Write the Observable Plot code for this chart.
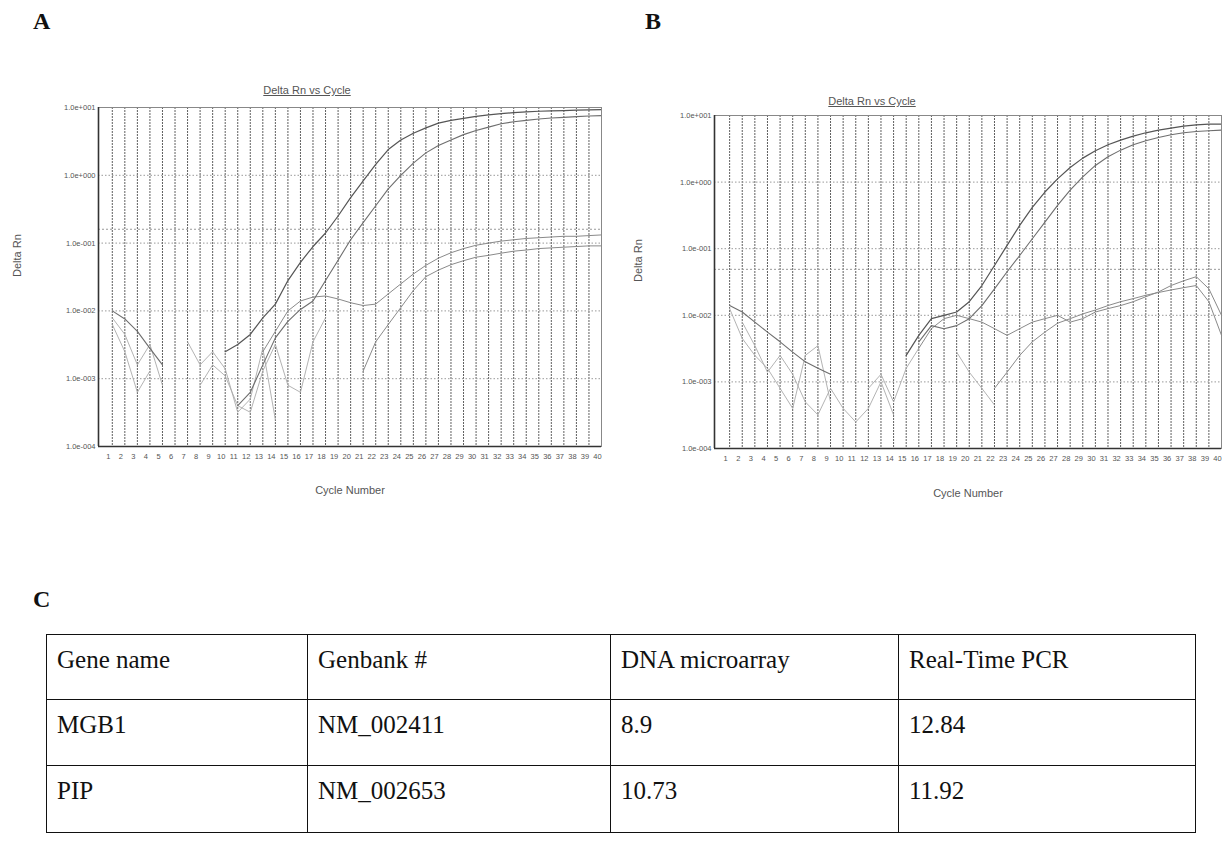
<!DOCTYPE html>
<html>
<head>
<meta charset="utf-8">
<script src="https://cdn.jsdelivr.net/npm/d3@7"></script>
<script src="https://cdn.jsdelivr.net/npm/@observablehq/plot@0.6"></script>
<style>
  body { margin: 0; background: #fff; width: 1227px; height: 848px; position: relative; overflow: hidden;
         font-family: "Liberation Sans", Arial, sans-serif; }
  .abs { position: absolute; }
  .letter { font-family: "Liberation Serif", serif; font-weight: bold; font-size: 24px; color: #111; }
  .ptitle { font-size: 11px; color: #555; text-decoration: underline; transform: translateX(-50%); white-space: nowrap; }
  table { border-collapse: collapse; font-family: "Liberation Serif", "Times New Roman", serif; font-size: 25px; color: #111; table-layout: fixed; }
  td { border: 1.5px solid #111; vertical-align: top; padding: 11px 0 0 10px; line-height: 28px; }
</style>
</head>
<body>
<div class="abs letter" style="left:33px;top:8px;">A</div>
<div class="abs letter" style="left:645px;top:8px;">B</div>
<div class="abs letter" style="left:33px;top:586px;">C</div>
<div class="abs ptitle" style="left:307px;top:84px;">Delta Rn vs Cycle</div>
<div class="abs ptitle" style="left:872px;top:95px;">Delta Rn vs Cycle</div>
<div id="panelA" class="abs" style="left:0px;top:80px;"></div>
<div id="panelB" class="abs" style="left:615px;top:80px;"></div>
<div id="tableC" class="abs" style="left:46px;top:634px;"></div>
<script>
// ---------- data ----------
const cycles = [1,2,3,4,5,6,7,8,9,10,11,12,13,14,15,16,17,18,19,20,
                21,22,23,24,25,26,27,28,29,30,31,32,33,34,35,36,37,38,39,40];
const yTicks = [1e-4, 1e-3, 1e-2, 1e-1, 1e0, 1e1];
const yTickLabels = ["1.0e-004", "1.0e-003", "1.0e-002", "1.0e-001", "1.0e+000", "1.0e+001"];
const thresholdA = 0.16;
const thresholdB = 0.049;

// Panel A (Delta Rn per cycle 1..40; null = not shown)
const a1 = [null,null,null,null,null,null,null,null,null,0.0025,0.0032,0.0045,0.0079,0.0126,0.028,0.052,0.089,0.141,0.251,0.468,
            0.83,1.45,2.4,3.31,4.17,5.01,5.89,6.46,6.92,7.41,7.76,8.13,8.41,8.61,8.81,8.91,9.02,9.12,9.23,9.33];
const a2 = [null,null,null,null,null,null,null,null,null,null,0.0004,0.00063,0.0016,0.004,0.007,0.0105,0.014,0.028,0.056,0.112,
            0.2,0.355,0.63,1.0,1.51,2.14,2.75,3.31,3.98,4.57,5.13,5.75,6.17,6.46,6.76,7.0,7.16,7.33,7.5,7.59];
const a3 = [null,null,null,null,null,null,null,null,null,null,null,null,0.0025,0.005,0.01,0.014,0.016,0.0166,0.015,0.0132,
            0.012,0.0126,0.0178,0.025,0.035,0.047,0.06,0.072,0.083,0.093,0.1,0.107,0.112,0.117,0.12,0.123,0.126,0.126,0.129,0.132];
const a4 = [null,null,null,null,null,null,null,null,null,null,null,null,null,null,null,null,null,null,null,null,
            0.0013,0.0035,0.0063,0.0112,0.02,0.032,0.04,0.048,0.055,0.062,0.066,0.071,0.076,0.079,0.083,0.085,0.087,0.089,0.091,0.091];
const a5 = [0.01,0.0076,0.005,0.0028,0.0016,null,null,null,null,null,null,null,null,null,null,null,null,null,null,null,
            null,null,null,null,null,null,null,null,null,null,null,null,null,null,null,null,null,null,null,null];
const a6 = [0.0079,0.0045,0.0016,0.0032,0.0008,null,0.0035,0.0016,0.0025,0.0014,0.00032,0.0005,0.0028,0.00025,null,null,null,null,null,null,
            null,null,null,null,null,null,null,null,null,null,null,null,null,null,null,null,null,null,null,null];
const a7 = [0.0063,0.0025,0.00063,0.0013,null,null,null,0.0008,0.0016,0.0011,0.0004,0.00032,0.0013,0.0032,0.0008,0.00063,0.0035,0.0079,null,null,
            null,null,null,null,null,null,null,null,null,null,null,null,null,null,null,null,null,null,null,null];

// Panel B
const b1 = [null,null,null,null,null,null,null,null,null,null,null,null,null,null,0.0025,0.005,0.0089,0.01,0.0112,0.016,
            0.028,0.056,0.112,0.224,0.417,0.71,1.12,1.66,2.29,2.95,3.63,4.27,4.9,5.5,6.03,6.46,6.92,7.24,7.41,7.41];
const b2 = [null,null,null,null,null,null,null,null,null,null,null,null,null,null,null,0.004,0.007,0.0063,0.007,0.0089,
            0.014,0.025,0.045,0.079,0.141,0.251,0.447,0.76,1.2,1.78,2.4,3.02,3.63,4.17,4.68,5.13,5.5,5.75,5.89,6.03];
const b3 = [null,null,null,null,null,null,null,null,null,null,null,null,null,null,null,0.0032,0.0063,0.0089,0.01,0.0089,
            0.0079,0.0063,0.005,0.0063,0.0079,0.0089,0.01,0.0079,0.0089,0.0112,0.0126,0.014,0.016,0.019,0.0224,0.028,0.033,0.038,0.025,0.01];
const b4 = [null,null,null,null,null,null,null,null,null,null,null,null,null,null,null,null,null,null,null,null,
            null,0.0008,0.0014,0.0025,0.004,0.0056,0.0076,0.0089,0.0105,0.012,0.014,0.016,0.0178,0.02,0.022,0.024,0.026,0.028,0.016,0.005];
const b5 = [0.014,0.0112,0.0079,0.0056,0.004,0.0028,0.002,0.0016,0.0013,null,null,null,null,null,null,null,null,null,null,null,
            null,null,null,null,null,null,null,null,null,null,null,null,null,null,null,null,null,null,null,null];
const b6 = [0.0126,0.0045,0.0025,0.0016,0.0008,0.0004,0.0025,0.0035,0.0005,null,null,0.0008,0.0013,0.0005,0.0016,0.0032,null,null,null,null,
            null,null,null,null,null,null,null,null,null,null,null,null,null,null,null,null,null,null,null,null];
const b7 = [null,0.0079,0.0035,0.0014,0.0025,0.0013,0.0005,0.00032,0.0008,0.0004,0.00025,0.0004,0.001,0.00032,null,null,null,null,0.0028,0.0014,
            0.0008,0.00045,null,null,null,null,null,null,null,null,null,null,null,null,null,null,null,null,null,null];

// Table C
const tableHeader = ["Gene name", "Genbank #", "DNA microarray", "Real-Time PCR"];
const geneNames = ["MGB1", "PIP"];
const genbankIds = ["NM_002411", "NM_002653"];
const microarrayFold = ["8.9", "10.73"];
const pcrFold = ["12.84", "11.92"];

// ---------- styles ----------
const seriesStyle = {
  main1: {stroke: "#555", strokeWidth: 1.2},
  main2: {stroke: "#6e6e6e", strokeWidth: 1.1},
  low:   {stroke: "#8a8a8a", strokeWidth: 1},
  noise: {stroke: "#aaa", strokeWidth: 0.9}
};

function panel({series, threshold, width, height, marginLeft, marginRight, marginTop, marginBottom, xMin, yLabelOffset, xLabelOffset}) {
  const lineMarks = series.map(s => Plot.line(
    cycles.map((c, i) => ({cycle: c, value: s.values[i]})),
    {x: "cycle", y: "value", ...seriesStyle[s.style], strokeLinejoin: "round"}
  ));
  return Plot.plot({
    width, height, marginLeft, marginRight, marginTop, marginBottom,
    style: {fontFamily: "Liberation Sans, Arial, sans-serif", color: "#555", background: "transparent"},
    x: {domain: [xMin, 40], label: null},
    y: {type: "log", domain: [1e-4, 1e1], label: null},
    marks: [
      Plot.ruleX(cycles, {stroke: "#444", strokeWidth: 1, strokeDasharray: "2,1", strokeOpacity: 0.85}),
      Plot.ruleY(yTicks, {stroke: "#999", strokeWidth: 1, strokeDasharray: "1.5,2"}),
      Plot.ruleY([threshold], {stroke: "#999", strokeWidth: 1, strokeDasharray: "2,2"}),
      ...lineMarks,
      Plot.frame({stroke: "#888", strokeWidth: 1}),
      Plot.ruleX([xMin], {stroke: "#333", strokeWidth: 1.6}),
      Plot.ruleY([1e-4], {stroke: "#333", strokeWidth: 1.6}),
      Plot.axisX({ticks: cycles, tickSize: 0, tickPadding: 7, fontSize: 7.5, dx: -4, label: null, tickFormat: d => String(d)}),
      Plot.axisY({ticks: yTicks, tickSize: 0, tickPadding: 3, fontSize: 7.5, label: null,
                  tickFormat: d => yTickLabels[yTicks.indexOf(d)]}),
      Plot.text(["Cycle Number"], {text: d => d, frameAnchor: "bottom", dy: xLabelOffset, fontSize: 11, fill: "#555"}),
      Plot.text(["Delta Rn"], {text: d => d, frameAnchor: "left", dx: -yLabelOffset, rotate: -90, fontSize: 11, fill: "#555"})
    ]
  });
}

document.getElementById("panelA").append(panel({
  series: [
    {values: a7, style: "noise"}, {values: a6, style: "noise"}, {values: a5, style: "main2"},
    {values: a4, style: "low"}, {values: a3, style: "low"},
    {values: a2, style: "main2"}, {values: a1, style: "main1"}
  ],
  threshold: thresholdA,
  width: 610, height: 430, marginLeft: 98, marginRight: 9, marginTop: 27, marginBottom: 64,
  xMin: -0.1, yLabelOffset: 81, xLabelOffset: 47
}));

document.getElementById("panelB").append(panel({
  series: [
    {values: b7, style: "noise"}, {values: b6, style: "noise"}, {values: b5, style: "main2"},
    {values: b4, style: "low"}, {values: b3, style: "low"},
    {values: b2, style: "main2"}, {values: b1, style: "main1"}
  ],
  threshold: thresholdB,
  width: 612, height: 432, marginLeft: 99, marginRight: 6, marginTop: 35, marginBottom: 64,
  xMin: -0.2, yLabelOffset: 76, xLabelOffset: 48
}));

// ---------- table ----------
const colWidths = [261, 303, 288, 297];
const rowHeights = [65, 66, 67];
const table = document.createElement("table");
const colgroup = document.createElement("colgroup");
colWidths.forEach(w => { const c = document.createElement("col"); c.style.width = w + "px"; colgroup.append(c); });
table.append(colgroup);
table.style.width = d3.sum(colWidths) + "px";
const rows = [tableHeader, ...geneNames.map((g, i) => [g, genbankIds[i], microarrayFold[i], pcrFold[i]])];
rows.forEach((r, ri) => {
  const tr = document.createElement("tr");
  tr.style.height = rowHeights[ri] + "px";
  r.forEach(t => { const td = document.createElement("td"); td.textContent = t; tr.append(td); });
  table.append(tr);
});
document.getElementById("tableC").append(table);
</script>
</body>
</html>
